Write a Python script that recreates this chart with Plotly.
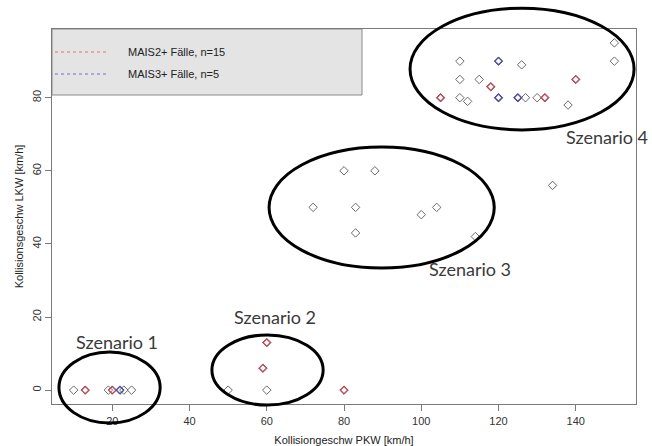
import plotly.graph_objects as go

# ---- data ----
all_x = [10, 13, 19, 20, 22, 23, 25, 50, 59, 60, 60, 80,
         72, 80, 83, 83, 88, 100, 104, 114, 134,
         105, 110, 110, 110, 112, 115, 118, 120, 120, 125, 126, 127, 130, 132, 138, 140, 150, 150]
all_y = [0, 0, 0, 0, 0, 0, 0, 0, 6, 0, 13, 0,
         50, 60, 50, 43, 60, 48, 50, 42, 56,
         80, 80, 85, 90, 79, 85, 83, 90, 80, 80, 89, 80, 80, 80, 78, 85, 90, 95]

mais2_x = [13, 20, 59, 60, 80, 105, 118, 132, 140]
mais2_y = [0, 0, 6, 13, 0, 80, 83, 80, 85]

mais3_x = [22, 120, 120, 125]
mais3_y = [0, 90, 80, 80]

legend_labels = ["MAIS2+ Fälle, n=15", "MAIS3+ Fälle, n=5"]
x_ticks = [20, 40, 60, 80, 100, 120, 140]
y_ticks = [0, 20, 40, 60, 80]

# scenario ellipses in data units: (x0, x1, y0, y1) and label centers
scen_names = ["Szenario 1", "Szenario 2", "Szenario 3", "Szenario 4"]
scen_ellipses = [(6.2, 32.4, -9.0, 10.4), (45.8, 74.6, -4.1, 15.1),
                 (60.6, 118.9, 33.4, 66.5), (97.1, 155.1, 71.2, 104.5)]
scen_label_x = [21.2, 62.1, 112.6, 148.1]
scen_label_y = [13.2, 20.0, 33.1, 69.3]

XR = [4.4, 155.6]
YR = [-3.8, 98.8]

def px(x):
    return (x - XR[0]) / (XR[1] - XR[0])

def py(y):
    return (y - YR[0]) / (YR[1] - YR[0])

fig = go.Figure()
fig.add_trace(go.Scatter(x=all_x, y=all_y, mode="markers", showlegend=False,
                         marker=dict(symbol="diamond-open", size=6.5, color="#6a6a6a",
                                     line=dict(width=1))))
fig.add_trace(go.Scatter(x=mais2_x, y=mais2_y, mode="markers", showlegend=False,
                         marker=dict(symbol="diamond-open", size=5.5, color="#c04a5a",
                                     line=dict(width=1.2))))
fig.add_trace(go.Scatter(x=mais3_x, y=mais3_y, mode="markers", showlegend=False,
                         marker=dict(symbol="diamond-open", size=5.5, color="#4a4aa8",
                                     line=dict(width=1.2))))

shapes = []
annotations = []
for (x0, x1, y0, y1) in scen_ellipses:
    shapes.append(dict(type="circle", xref="paper", yref="paper",
                       x0=px(x0), x1=px(x1), y0=py(y0), y1=py(y1),
                       line=dict(color="black", width=3), layer="above"))
for name, lx, ly in zip(scen_names, scen_label_x, scen_label_y):
    annotations.append(dict(x=px(lx), y=py(ly), xref="paper", yref="paper",
                            xanchor="center", yanchor="middle",
                            text=name, showarrow=False,
                            font=dict(family="Lato", size=18, color="#3a3a3a")))

# legend box (manual)
shapes.append(dict(type="rect", xref="paper", yref="paper",
                   x0=0, x1=310 / 584, y0=1 - 66 / 375, y1=1,
                   fillcolor="#e4e4e4", line=dict(color="#8a8a8a", width=1), layer="below"))
leg_colors = ["#e07070", "#7070c0"]
for i, (lab, c) in enumerate(zip(legend_labels, leg_colors)):
    yy = 1 - (23 + 22 * i) / 375
    shapes.append(dict(type="line", xref="paper", yref="paper",
                       x0=3 / 584, x1=56 / 584, y0=yy, y1=yy,
                       line=dict(color=c, width=1, dash="dot")))
    annotations.append(dict(x=74 / 584, y=yy, xref="paper", yref="paper",
                            text=lab, showarrow=False, xanchor="left", yanchor="middle",
                            font=dict(family="Liberation Sans", size=11, color="#222")))

fig.update_layout(
    width=652, height=446,
    margin=dict(l=52, r=16, t=29, b=42),
    paper_bgcolor="white", plot_bgcolor="white",
    shapes=shapes, annotations=annotations,
    font=dict(family="Liberation Sans", size=11, color="#333"),
)
fig.update_xaxes(range=XR, tickvals=x_ticks, showgrid=False, zeroline=False,
                 automargin=False,
                 showline=True, mirror=True, linecolor="#7a7a7a", linewidth=1,
                 ticks="outside", ticklen=6, tickcolor="#7a7a7a",
                 ticklabelstandoff=1,
                 tickfont=dict(size=11, color="#333"),
                 title=dict(text="Kollisiongeschw PKW [km/h]", standoff=10,
                            font=dict(size=11, color="#222")))
fig.update_yaxes(range=YR, tickvals=y_ticks, showgrid=False, zeroline=False,
                 automargin=False,
                 showline=True, mirror=True, linecolor="#7a7a7a", linewidth=1,
                 ticks="outside", ticklen=6, tickcolor="#7a7a7a", tickangle=-90,
                 tickfont=dict(size=11, color="#333"),
                 title=dict(text="Kollisionsgeschw LKW [km/h]", standoff=4,
                            font=dict(size=11, color="#222")))

fig.write_html("out.html", config={"displayModeBar": False},
               post_script="document.body.style.margin='0';document.body.style.overflow='hidden';")
